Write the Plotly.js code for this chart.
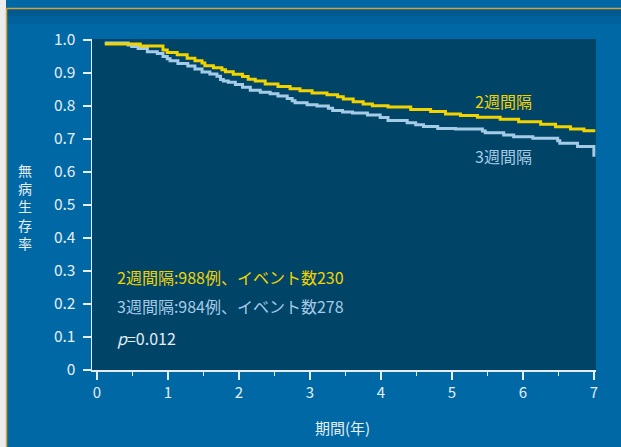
<!DOCTYPE html>
<html>
<head>
<meta charset="utf-8">
<script src="https://cdn.plot.ly/plotly-3.0.1.min.js"></script>
<style>
html,body{margin:0;padding:0;background:#0068a4;}
#chart{width:621px;height:447px;}
</style>
</head>
<body>
<div id="chart"></div>
<script>
// Kaplan–Meier step curves (time in years, disease-free survival)
const q2Times = [0.11, 0.61, 0.93, 0.99, 1.13, 1.27, 1.38, 1.48, 1.52, 1.64, 1.76, 1.81, 1.92, 2.05, 2.13, 2.23, 2.37, 2.55, 2.72, 2.86, 3.03, 3.24, 3.39, 3.47, 3.61, 3.75, 3.88, 4.10, 4.42, 4.70, 4.91, 5.12, 5.36, 5.68, 5.94, 6.25, 6.46, 6.67, 6.86, 7.02];
const q2Surv  = [0.988, 0.982, 0.970, 0.962, 0.955, 0.945, 0.937, 0.930, 0.922, 0.916, 0.910, 0.904, 0.896, 0.889, 0.881, 0.876, 0.867, 0.859, 0.852, 0.846, 0.839, 0.834, 0.828, 0.821, 0.813, 0.806, 0.801, 0.797, 0.789, 0.783, 0.776, 0.771, 0.766, 0.760, 0.752, 0.745, 0.737, 0.730, 0.725, 0.725];
const q3Times = [0.11, 0.44, 0.49, 0.58, 0.71, 0.85, 0.93, 0.99, 1.03, 1.14, 1.28, 1.38, 1.48, 1.59, 1.69, 1.74, 1.78, 1.85, 1.95, 2.05, 2.16, 2.30, 2.44, 2.55, 2.68, 2.75, 2.79, 2.96, 3.10, 3.26, 3.32, 3.46, 3.60, 3.81, 3.99, 4.10, 4.37, 4.49, 4.60, 4.80, 5.05, 5.43, 5.47, 5.73, 5.87, 6.14, 6.49, 6.52, 6.77, 7.00];
const q3Surv  = [0.991, 0.985, 0.980, 0.974, 0.964, 0.959, 0.950, 0.943, 0.937, 0.929, 0.921, 0.912, 0.903, 0.897, 0.890, 0.880, 0.876, 0.872, 0.865, 0.857, 0.848, 0.842, 0.837, 0.830, 0.823, 0.816, 0.810, 0.804, 0.800, 0.793, 0.786, 0.782, 0.779, 0.773, 0.765, 0.756, 0.749, 0.743, 0.738, 0.732, 0.730, 0.724, 0.719, 0.712, 0.707, 0.702, 0.695, 0.687, 0.677, 0.646];

const seriesNames = ["2週間隔", "3週間隔"];
const statLines = ["2週間隔:988例、イベント数230", "3週間隔:984例、イベント数278"];
const pText = "<i>p</i>=0.012";
const xTickVals = [0, 1, 2, 3, 4, 5, 6, 7];
const yTickVals = [0, 0.1, 0.2, 0.3, 0.4, 0.5, 0.6, 0.7, 0.8, 0.9, 1.0];
const yTickText = ["0", "0.1", "0.2", "0.3", "0.4", "0.5", "0.6", "0.7", "0.8", "0.9", "1.0"];
const xTitle = "期間(年)";
const yTitle = "無病生存率";

const YEL = "#f2d300";
const BLU = "#a6cbe6";
const TXT = "#e6eef5";
const FONT = "'Noto Sans CJK JP', 'Noto Sans', sans-serif";

const traces = [
  {x: q3Times, y: q3Surv, mode: "lines", line: {shape: "hv", color: BLU, width: 3}, name: seriesNames[1], hoverinfo: "skip"},
  {x: q2Times, y: q2Surv, mode: "lines", line: {shape: "hv", color: YEL, width: 3}, name: seriesNames[0], hoverinfo: "skip"}
];

// pixel helpers for paper coords: plot area x 92..596, y 39..370
const L = 92, R = 596, T = 39, B = 370;
const px = v => (v - L) / (R - L);
const py = v => (B - v) / (B - T);

const annotations = [
  {xref: "x", yref: "y", x: 5.30, y: 0.815, text: seriesNames[0], showarrow: false, xanchor: "left", yanchor: "middle", font: {color: YEL, size: 16}},
  {xref: "x", yref: "y", x: 5.30, y: 0.648, text: seriesNames[1], showarrow: false, xanchor: "left", yanchor: "middle", font: {color: BLU, size: 16}},
  {xref: "x", yref: "y", x: 0.25, y: 0.282, text: statLines[0], showarrow: false, xanchor: "left", yanchor: "middle", font: {color: YEL, size: 16}},
  {xref: "x", yref: "y", x: 0.25, y: 0.194, text: statLines[1], showarrow: false, xanchor: "left", yanchor: "middle", font: {color: BLU, size: 16}},
  {xref: "x", yref: "y", x: 0.25, y: 0.097, text: pText, showarrow: false, xanchor: "left", yanchor: "middle", font: {color: TXT, size: 16}},
  {xref: "paper", yref: "paper", x: px(342), y: py(427), text: xTitle, showarrow: false, xanchor: "center", yanchor: "middle", font: {color: TXT, size: 15}},
  // vertical stacked y-axis title, one character per line
  {xref: "paper", yref: "paper", x: px(25), y: py(206), text: yTitle.split("").join("<br>"), showarrow: false, xanchor: "center", yanchor: "middle", font: {color: TXT, size: 14}}
];

const layout = {
  width: 621, height: 447,
  margin: {l: L, r: 621 - R, t: T, b: 447 - B},
  paper_bgcolor: "#0068a4",
  plot_bgcolor: "#004468",
  showlegend: false,
  font: {family: FONT, color: TXT, size: 15},
  xaxis: {
    range: [-0.07, 7.03], tickvals: xTickVals, ticktext: xTickVals.map(String),
    showgrid: false, zeroline: false, showline: true, linecolor: TXT, linewidth: 1.5,
    ticks: "outside", ticklen: 8, tickwidth: 1.5, tickcolor: TXT,
    minor: {dtick: 0.5, tick0: 0, ticks: "outside", ticklen: 4, tickwidth: 1.5, tickcolor: TXT, showgrid: false},
    tickfont: {size: 15, color: TXT, family: FONT}, fixedrange: true
  },
  yaxis: {
    range: [0, 1.003], tickvals: yTickVals, ticktext: yTickText,
    showgrid: false, zeroline: false, showline: true, linecolor: TXT, linewidth: 1.5,
    ticks: "outside", ticklen: 8, tickwidth: 1.5, tickcolor: TXT, ticklabelstandoff: 4,
    tickfont: {size: 15.5, color: TXT, family: FONT}, fixedrange: true
  },
  annotations: annotations,
  shapes: [
    {type: "rect", xref: "paper", yref: "paper", x0: px(-2), x1: px(6), y0: py(450), y1: py(-2), fillcolor: "#ececec", line: {width: 0}, layer: "below"},
    {type: "rect", xref: "paper", yref: "paper", x0: px(7), x1: px(625), y0: py(16), y1: py(9), fillcolor: "rgba(0,20,50,0.18)", line: {width: 0}, layer: "below"},
    {type: "rect", xref: "paper", yref: "paper", x0: px(7), x1: px(625), y0: py(24), y1: py(16), fillcolor: "rgba(0,20,50,0.07)", line: {width: 0}, layer: "below"},
    {type: "line", xref: "paper", yref: "paper", x0: px(6.5), x1: px(625), y0: py(8.5), y1: py(8.5), line: {color: "#d4a23a", width: 1.5}},
    {type: "line", xref: "paper", yref: "paper", x0: px(6.5), x1: px(6.5), y0: py(8.5), y1: py(450), line: {color: "#d4a23a", width: 1.5}}
  ]
};

Plotly.newPlot("chart", traces, layout, {displayModeBar: false, staticPlot: true});
</script>
</body>
</html>
